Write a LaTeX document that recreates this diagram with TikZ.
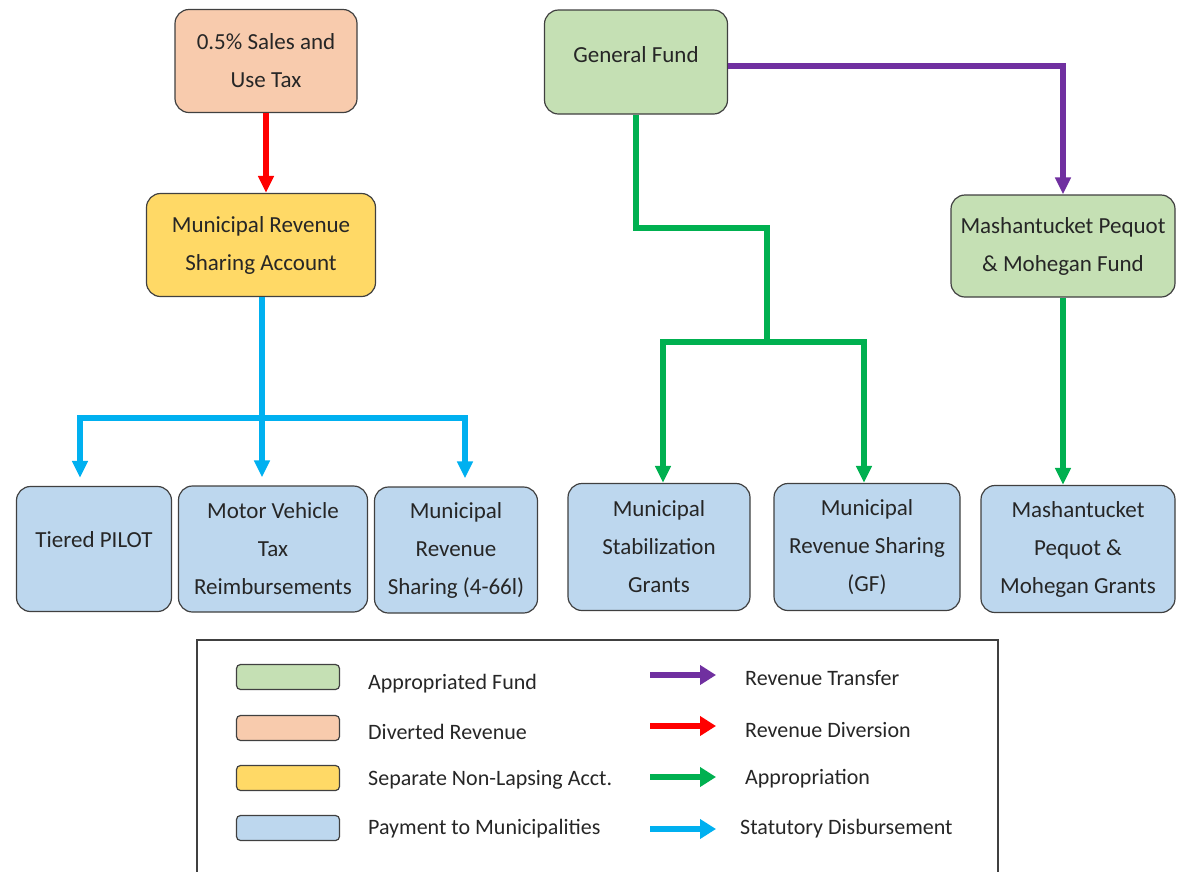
\documentclass[tikz,border=0pt]{standalone}
\usepackage{fontspec}
\setmainfont{Carlito}
\usepackage{tikz}
\usetikzlibrary{arrows.meta,positioning}

\definecolor{boxline}{HTML}{404040}
\definecolor{divfill}{HTML}{F8CBAD}
\definecolor{sepfill}{HTML}{FFD966}
\definecolor{appfill}{HTML}{C5E0B4}
\definecolor{payfill}{HTML}{BDD7EE}
\definecolor{trcol}{HTML}{7030A0}
\definecolor{dvcol}{HTML}{FF0000}
\definecolor{apcol}{HTML}{00B050}
\definecolor{sdcol}{HTML}{00B0F0}

\tikzset{
  fundbox/.style={draw=boxline, line width=1.2pt, rounded corners=14pt,
    align=center, inner sep=0pt, text=black!85,
    font=\fontsize{23}{38}\selectfont},
  flow/.style={line width=5.5pt, -{Triangle[length=17pt,width=15pt]}},
  plain/.style={line width=5.5pt},
  keybox/.style={draw=boxline, line width=1.2pt, rounded corners=4pt,
    minimum width=103pt, minimum height=25pt, inner sep=0pt},
  keytext/.style={anchor=west, inner sep=0pt, text=black!85,
    font=\fontsize{22}{26}\selectfont},
  keyarrow/.style={line width=6.5pt, -{Triangle[length=16pt,width=19pt]}}
}

\begin{document}
\begin{tikzpicture}[x=1pt,y=-1pt]
  \useasboundingbox (0,0) rectangle (1178,871);

  % sources
  \node[fundbox, fill=divfill, minimum width=182pt, minimum height=103pt]
    (tax) at (266,61) {0.5\% Sales and\\Use Tax};
  \node[fundbox, fill=sepfill, minimum width=229pt, minimum height=103pt]
    (mrsa) at (261,245) {Municipal Revenue\\Sharing Account};
  \node[fundbox, fill=appfill, minimum width=183pt, minimum height=104pt]
    (gf) at (636,62) {General Fund\\[-24pt]\mbox{}};
  \node[fundbox, fill=appfill, minimum width=224pt, minimum height=102pt]
    (mpf) at (1063,246) {Mashantucket Pequot\\\& Mohegan Fund};

  % payments
  \node[fundbox, fill=payfill, minimum width=155pt, minimum height=125pt]
    (pilot) at (94,549) {Tiered PILOT\\[-20pt]\mbox{}};
  \node[fundbox, fill=payfill, minimum width=189pt, minimum height=126pt]
    (mvt) at (273,549) {Motor Vehicle\\Tax\\Reimbursements};
  \node[fundbox, fill=payfill, minimum width=163pt, minimum height=126pt]
    (mrs) at (456,550) {Municipal\\Revenue\\Sharing (4-66l)};
  \node[fundbox, fill=payfill, minimum width=182pt, minimum height=127pt]
    (msg) at (659,547) {Municipal\\Stabilization\\Grants};
  \node[fundbox, fill=payfill, minimum width=186pt, minimum height=127pt]
    (mrsgf) at (867,547) {Municipal\\Revenue Sharing\\(GF)};
  \node[fundbox, fill=payfill, minimum width=194pt, minimum height=127pt]
    (mpg) at (1078,549) {Mashantucket\\Pequot \&\\Mohegan Grants};

  % connectors
  \coordinate (bsplit) at (262,418);
  \coordinate (gstep) at (767,228);
  \coordinate (gsplit) at (767,342);

  \draw[flow, dvcol] (tax.south) -- (tax.south |- mrsa.north);
  \draw[flow, trcol] ([yshift=-4pt]gf.east) -| (mpf.north);
  \draw[plain, apcol] (gf.south) |- (gstep) -- (gsplit);
  \draw[flow, apcol] (gsplit) -| ([xshift=4pt]msg.north);
  \draw[flow, apcol] (gsplit) -| ([xshift=-3pt]mrsgf.north);
  \draw[flow, apcol] (mpf.south) -- (mpf.south |- mpg.north);
  \draw[plain, sdcol] ([xshift=1pt]mrsa.south) -- (bsplit);
  \draw[flow, sdcol, shorten >=8pt] (bsplit) -| ([xshift=-14pt]pilot.north);
  \draw[flow, sdcol, shorten >=8pt] (bsplit) -- (bsplit |- mvt.north);
  \draw[flow, sdcol, shorten >=8pt] (bsplit) -| ([xshift=9pt]mrs.north);

  % legend
  \draw[boxline, line width=1.2pt] (197,880) |- (998,640) -- (998,880);
  \node[keybox, fill=appfill] (k1) at (288,677) {};
  \node[keybox, fill=divfill] (k2) at (288,728) {};
  \node[keybox, fill=sepfill] (k3) at (288,778) {};
  \node[keybox, fill=payfill] (k4) at (288,828) {};
  \node[keytext] (t1) at (368,684) {Appropriated Fund};
  \node[keytext] (t2) at (368,732) {Diverted Revenue};
  \node[keytext] (t3) at (368,780) {Separate Non-Lapsing Acct.};
  \node[keytext] (t4) at (368,829) {Payment to Municipalities};
  \coordinate (a1) at (650,675); \coordinate (b1) at (716,675);
  \coordinate (a2) at (650,726); \coordinate (b2) at (716,726);
  \coordinate (a3) at (650,777); \coordinate (b3) at (716,777);
  \coordinate (a4) at (650,829); \coordinate (b4) at (716,829);
  \draw[keyarrow, trcol] (a1) -- (b1);
  \draw[keyarrow, dvcol] (a2) -- (b2);
  \draw[keyarrow, apcol] (a3) -- (b3);
  \draw[keyarrow, sdcol] (a4) -- (b4);
  \node[keytext] (u1) at (745,678) {Revenue Transfer};
  \node[keytext] (u2) at (745,730) {Revenue Diversion};
  \node[keytext] (u3) at (745,779) {Appropriation};
  \node[keytext] (u4) at (740,829) {Statutory Disbursement};
\end{tikzpicture}
\end{document}
